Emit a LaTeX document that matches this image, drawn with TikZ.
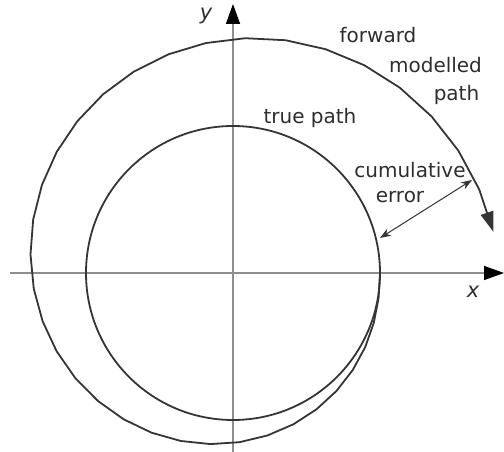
\documentclass[tikz,border=0pt]{standalone}
\usepackage{fontspec}
\setmainfont{DejaVu Sans}
\usetikzlibrary{arrows.meta}
\definecolor{pathink}{HTML}{353535}
\definecolor{axisgray}{HTML}{8E8E8E}
\definecolor{labelink}{HTML}{2E2E2E}
\newcommand{\spiralr}[1]{(147+0.37*#1*(#1/(#1+40)))}

\begin{document}
\begin{tikzpicture}[
  x=1pt,y=1pt,
  axis/.style={draw=axisgray,line width=1.5pt,-{Triangle[length=20pt,width=14pt,color=black]}},
  curve/.style={draw=pathink,line width=1.8pt,line join=round},
  gap/.style={draw=pathink,line width=1pt,{Stealth[length=11pt,width=8pt]}-{Stealth[length=11pt,width=8pt]}},
  label/.style={inner sep=0pt,text=labelink,font=\fontsize{20}{22}\selectfont}
]
\useasboundingbox (-233,-179) rectangle (271,273);

% axes
\coordinate (origin) at (0,0);
\coordinate (xstart) at (-223,0);
\coordinate (xend) at (271,0);
\coordinate (ystart) at (0,-179);
\coordinate (yend) at (0,269);
\draw[axis] (xstart) -- (xend);
\draw[axis] (ystart) -- (yend);
\node[label,font=\fontsize{21}{22}\selectfont\itshape] (xlabel) at (240,-19) {x};
\node[label,font=\fontsize{21}{22}\selectfont\itshape] (ylabel) at (-27,257) {y};

% true path and forward modelled path
\draw[curve] (origin) circle[radius=147];
\draw[curve,-{Triangle[length=20pt,width=13pt]}] plot[domain=0:351,samples=37]
  ({\spiralr{\x}*cos(-\x)},{\spiralr{\x}*sin(-\x)});

% labels
\node[label] (truelbl) at (77,155) {true path};
\node[label] (fwd) at (145,238) {forward};
\node[label] (mdl) at (202.5,208) {modelled};
\node[label] (pth) at (223.5,178) {path};
\node[label] (cum) at (177,103) {cumulative};
\node[label] (err) at (167,75.5) {error};

% cumulative error
\coordinate (errin) at (147,35);
\coordinate (errout) at (239,93);
\draw[gap] (errin) -- (errout);
\end{tikzpicture}
\end{document}
